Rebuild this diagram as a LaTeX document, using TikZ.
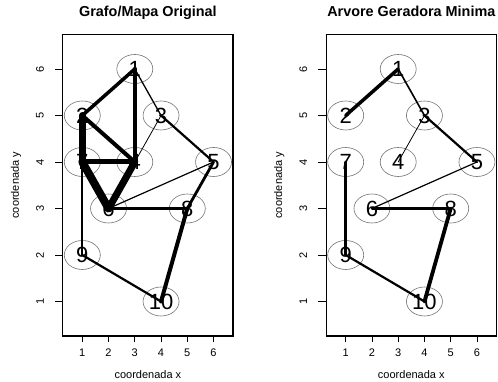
\documentclass[tikz,border=0pt]{standalone}
\usepackage{fontspec}
\setmainfont{Liberation Sans}
\usetikzlibrary{shapes.geometric}
\begin{document}
\begin{tikzpicture}[x=1pt,y=1pt,
  vtx/.style={ellipse, draw=black!55, line width=0.6pt, minimum width=36pt, minimum height=29pt, inner sep=0pt, font=\fontsize{22}{22}\selectfont},
  lnk/.style={line cap=round, line width=#1},
  frame/.style={line width=1.2pt},
  tick/.style={line width=0.8pt},
  ticklab/.style={font=\fontsize{11}{11}\selectfont, inner sep=0pt},
  axlab/.style={font=\fontsize{11}{11}\selectfont, inner sep=0pt},
  ttl/.style={font=\bfseries\fontsize{14.4}{14.4}\selectfont, inner sep=0pt, anchor=base}
]
\useasboundingbox (0,0) rectangle (498,382);

% ---------------- left plot ----------------
\begin{scope}[shift={(56.05pt,34pt)}, x=26.25pt, y=46.5pt]
  \draw[frame] (0.26,0.26) rectangle (6.74,6.74);
  \foreach \i in {1,...,6} {
    \draw[tick] (\i,0.26) -- ++(0,-6pt);
    \path (\i,0.26) ++(0,-16.8pt) node[ticklab] {\i};
    \draw[tick] (0.26,\i) -- ++(-8pt,0);
    \path (0.26,\i) ++(-22.9pt,0) node[ticklab, rotate=90] {\i};
  }
  \path (3.5,0.26) ++(0,-39pt) node[axlab] {coordenada x};
  \path (0.26,3.5) ++(-46.9pt,0) node[axlab, rotate=90] {coordenada y};
  \path (3.5,6.74) ++(0,18.1pt) node[ttl] {Grafo/Mapa Original};

  \node[vtx] (L1) at (3,6) {1};
  \node[vtx] (L2) at (1,5) {2};
  \node[vtx] (L3) at (4,5) {3};
  \node[vtx] (L4) at (3,4) {4};
  \node[vtx] (L5) at (6,4) {5};
  \node[vtx] (L6) at (2,3) {6};
  \node[vtx] (L7) at (1,4) {7};
  \node[vtx] (L8) at (5,3) {8};
  \node[vtx] (L9) at (1,2) {9};
  \node[vtx] (L10) at (4,1) {10};

  \draw[lnk=3.5pt] (L1.center) -- (L2.center);
  \draw[lnk=4.5pt] (L1.center) -- (L4.center);
  \draw[lnk=1.3pt] (L1.center) -- (L3.center);
  \draw[lnk=2.2pt] (L3.center) -- (L5.center);
  \draw[lnk=0.8pt] (L3.center) -- (L4.center);
  \draw[lnk=4pt] (L2.center) -- (L4.center);
  \draw[lnk=7pt] (L2.center) -- (L7.center);
  \draw[lnk=5pt] (L7.center) -- (L4.center);
  \draw[lnk=8pt] (L7.center) -- (L6.center);
  \draw[lnk=7pt] (L4.center) -- (L6.center);
  \draw[lnk=2.2pt] (L7.center) -- (L9.center);
  \draw[lnk=1.2pt] (L6.center) -- (L5.center);
  \draw[lnk=2.2pt] (L6.center) -- (L8.center);
  \draw[lnk=2.8pt] (L5.center) -- (L8.center);
  \draw[lnk=4pt] (L8.center) -- (L10.center);
  \draw[lnk=2.2pt] (L9.center) -- (L10.center);
\end{scope}

% ---------------- right plot ----------------
\begin{scope}[shift={(319.45pt,34pt)}, x=26.25pt, y=46.5pt]
  \draw[frame] (0.26,0.26) rectangle (6.74,6.74);
  \foreach \i in {1,...,6} {
    \draw[tick] (\i,0.26) -- ++(0,-6pt);
    \path (\i,0.26) ++(0,-16.8pt) node[ticklab] {\i};
    \draw[tick] (0.26,\i) -- ++(-8pt,0);
    \path (0.26,\i) ++(-22.9pt,0) node[ticklab, rotate=90] {\i};
  }
  \path (3.5,0.26) ++(0,-39pt) node[axlab] {coordenada x};
  \path (0.26,3.5) ++(-46.9pt,0) node[axlab, rotate=90] {coordenada y};
  \path (3.5,6.74) ++(0,18.1pt) node[ttl] {Arvore Geradora Minima};

  \node[vtx] (R1) at (3,6) {1};
  \node[vtx] (R2) at (1,5) {2};
  \node[vtx] (R3) at (4,5) {3};
  \node[vtx] (R4) at (3,4) {4};
  \node[vtx] (R5) at (6,4) {5};
  \node[vtx] (R6) at (2,3) {6};
  \node[vtx] (R7) at (1,4) {7};
  \node[vtx] (R8) at (5,3) {8};
  \node[vtx] (R9) at (1,2) {9};
  \node[vtx] (R10) at (4,1) {10};

  \draw[lnk=3.5pt] (R1.center) -- (R2.center);
  \draw[lnk=1.6pt] (R1.center) -- (R3.center);
  \draw[lnk=2.2pt] (R3.center) -- (R5.center);
  \draw[lnk=0.8pt] (R3.center) -- (R4.center);
  \draw[lnk=2.5pt] (R7.center) -- (R9.center);
  \draw[lnk=1.2pt] (R6.center) -- (R5.center);
  \draw[lnk=2.5pt] (R6.center) -- (R8.center);
  \draw[lnk=3.8pt] (R8.center) -- (R10.center);
  \draw[lnk=2.2pt] (R9.center) -- (R10.center);
\end{scope}
\end{tikzpicture}
\end{document}
